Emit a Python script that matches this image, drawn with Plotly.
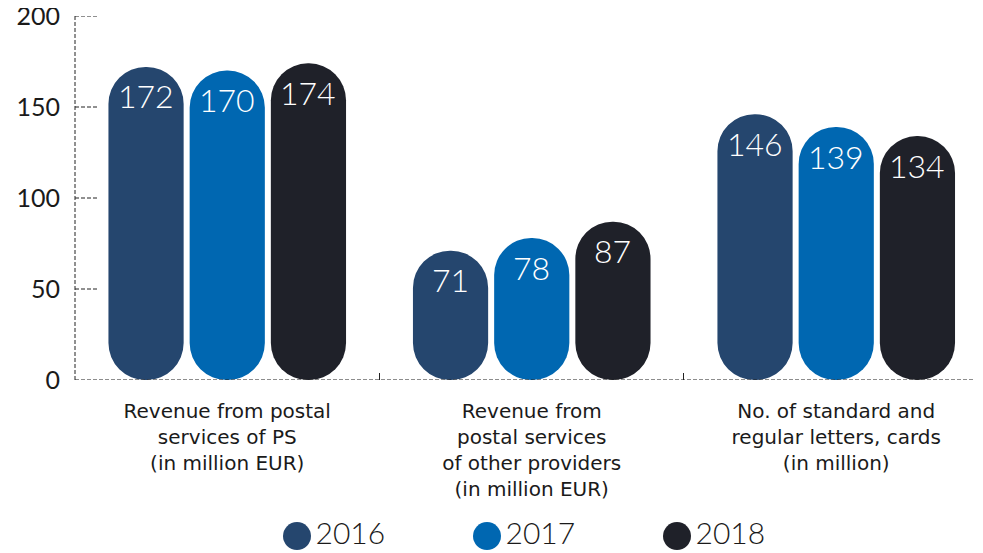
import plotly.graph_objects as go

# data
categories = [
    "Revenue from postal<br>services of PS<br>(in million EUR)",
    "Revenue from<br>postal services<br>of other providers<br>(in million EUR)",
    "No. of standard and<br>regular letters, cards<br>(in million)",
]
years = ["2016", "2017", "2018"]
values_2016 = [172, 71, 146]
values_2017 = [170, 78, 139]
values_2018 = [174, 87, 134]
y_ticks = [0, 50, 100, 150, 200]

series = dict(zip(years, [values_2016, values_2017, values_2018]))
colors = {"2016": "#25466e", "2017": "#0067b1", "2018": "#1f2129"}

FONT = "Lato"
LABEL_FONT = "DejaVu Sans"
TXT = "#1a1a1a"
DASH = "4px,2px"
SLOT = 81.2  # px between bars of one group

fig = go.Figure()

annotations = []
for j, yr in enumerate(years):
    vals = series[yr]
    # base set explicitly -> plotly rounds both ends (pill shape)
    fig.add_trace(go.Bar(
        x=categories, y=vals, base=[0] * len(vals), name=yr,
        marker=dict(color=colors[yr], cornerradius="50%", line_width=0),
        showlegend=False,
    ))
    for cat, v in zip(categories, vals):
        annotations.append(dict(
            x=cat, y=v, xref="x", yref="y", text=str(v), showarrow=False,
            xshift=(j - 1) * SLOT, yshift=-29, yanchor="middle",
            font=dict(color="white", size=32, family=FONT, weight=300),
        ))

# legend drawn as big circles on a small helper axis
legend_x = [222, 412, 602]
fig.add_trace(go.Scatter(
    x=legend_x, y=[0, 0, 0], xaxis="x2", yaxis="y2",
    mode="markers+text", text=years, textposition="middle right",
    marker=dict(size=28, color=[colors[y] for y in years]),
    textfont=dict(size=30, color=TXT, family=FONT, weight=300),
    showlegend=False, hoverinfo="skip", cliponaxis=False,
))

# dashed axis lines and ticks
shapes = [
    dict(type="line", xref="paper", yref="y", x0=0, x1=0, y0=0, y1=200,
         line=dict(color="#222", width=1, dash=DASH)),
    dict(type="line", xref="paper", yref="y", x0=0, x1=1, y0=0, y1=0,
         line=dict(color="#222", width=1, dash=DASH)),
]
for t in y_ticks[1:]:
    shapes.append(dict(type="line", xref="paper", yref="y", x0=0, x1=22 / 908, y0=t, y1=t,
                       line=dict(color="#222", width=1, dash=DASH)))

# page body has an 8px margin, so the figure is 8px smaller each way
fig.update_layout(
    width=975, height=545,
    margin=dict(l=67, r=0, t=8, b=5),
    paper_bgcolor="white", plot_bgcolor="white",
    barmode="group", bargap=0.2, bargroupgap=0.074,
    font=dict(family=FONT, color=TXT),
    shapes=shapes,
    annotations=annotations,
    xaxis=dict(type="category", range=[-0.5, 2.482], showgrid=False, showline=False,
               zeroline=False, tickson="boundaries", ticks="inside", ticklen=7,
               tickcolor="#222", tickwidth=1, ticklabelstandoff=17, automargin=False,
               tickfont=dict(size=20, color=TXT, family=LABEL_FONT)),
    yaxis=dict(range=[0, 200], domain=[0.3158, 1], showgrid=False, showline=False,
               zeroline=False, tickvals=y_ticks, ticks="", ticklabelstandoff=14,
               automargin=False, ticklabeloverflow="allow",
               tickfont=dict(size=25, color=TXT, family=FONT)),
    xaxis2=dict(domain=[0, 1], range=[0, 908], anchor="y2", visible=False),
    yaxis2=dict(domain=[0, 0.045], range=[-1, 1], anchor="x2", visible=False),
)

fig.write_html("out.html")
